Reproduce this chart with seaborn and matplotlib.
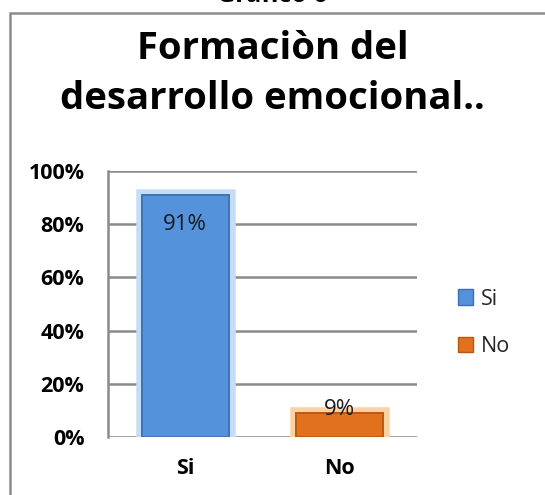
import matplotlib
matplotlib.use("Agg")
import matplotlib.pyplot as plt
import matplotlib.patheffects as pe
from matplotlib.patches import Rectangle, Patch
import seaborn as sns
import pandas as pd

categories = ["Si", "No"]
values = [0.91, 0.09]
value_labels = ["91%", "9%"]
yticks = [0, 0.2, 0.4, 0.6, 0.8, 1.0]
ytick_labels = ["0%", "20%", "40%", "60%", "80%", "100%"]
title = "Formaciòn del\ndesarrollo emocional.."
caption = "Gráfico 6"
colors = ["#5592DC", "#E2711D"]
edges = ["#3D6FB3", "#B9570F"]
glows = ["#C6DDF7", "#FAD3A3"]

sns.set_theme(style="white")
plt.rcParams["font.family"] = ["Open Sans", "DejaVu Sans"]

W, H, DPI = 545, 495, 100
fig = plt.figure(figsize=(W / DPI, H / DPI), dpi=DPI)
fig.patch.set_facecolor("white")

# outer frame (extends beyond right/bottom edge)
fig.patches.append(Rectangle((10 / W, -0.05), 1.2, (H - 13) / H + 0.05,
                             transform=fig.transFigure, fill=False,
                             edgecolor="#8C8C8C", linewidth=1.8))
fig.text(0.5, (H + 4) / H, caption, ha="center", va="center",
         fontsize=18, fontweight="bold", color="black")
fig.text(0.5, 1 - 74 / H, title, ha="center", va="center", fontsize=27.5,
         fontweight="bold", color="black", linespacing=1.38)

ax = fig.add_axes([108 / W, 1 - 437 / H, (417 - 108) / W, (437 - 171) / H])
df = pd.DataFrame({"cat": categories, "val": values})
sns.barplot(data=df, x="cat", y="val", hue="cat", palette=colors,
            saturation=1, width=0.56, ax=ax, legend=False, zorder=3)
for i, p in enumerate(ax.patches):
    p.set_edgecolor(edges[i])
    p.set_linewidth(1.2)
    p.set_path_effects([pe.withStroke(linewidth=9, foreground=glows[i]),
                        pe.Normal()])

ax.set_ylim(0, 1.0)
ax.set_xlim(-0.5, 1.5)
ax.set_yticks(yticks)
ax.set_yticklabels(ytick_labels, fontsize=15.5, fontweight="bold")
ax.set_xticks(range(len(categories)))
ax.set_xticklabels(categories, fontsize=15.5, fontweight="bold")
ax.set_xlabel("")
ax.set_ylabel("")
ax.yaxis.grid(True, color="#8A8A8A", linewidth=1.8, zorder=0)
ax.set_axisbelow(True)
for s in ["top", "right", "bottom"]:
    ax.spines[s].set_visible(False)
ax.spines["left"].set_color("#8A8A8A")
ax.spines["left"].set_linewidth(1.8)
ax.tick_params(axis="both", length=0, colors="black")
ax.tick_params(axis="y", pad=17)
ax.tick_params(axis="x", pad=15)

# data labels
ax.text(0, values[0] - 0.113, value_labels[0], ha="center", va="center",
        fontsize=16, color="#1a1a1a", zorder=5)
ax.text(1, values[1] + 0.012, value_labels[1], ha="center", va="center",
        fontsize=16, color="#1a1a1a", zorder=5)

handles = [Patch(facecolor=colors[i], edgecolor=edges[i], label=categories[i])
           for i in range(len(categories))]
fig.legend(handles=handles, loc="center left",
           bbox_to_anchor=(439 / W, 1 - 323 / H), frameon=False,
           fontsize=15.5, handlelength=0.7, handleheight=0.7,
           handletextpad=0.35, labelspacing=1.25)

fig.savefig("out.png", dpi=DPI)
